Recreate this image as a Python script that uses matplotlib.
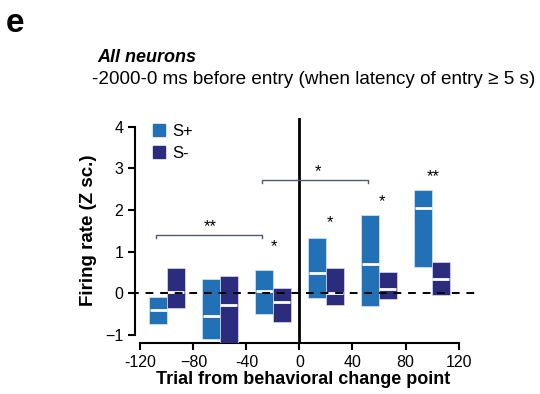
import matplotlib.pyplot as plt
from matplotlib.patches import Patch

plt.rcParams['font.family'] = ['Liberation Sans', 'DejaVu Sans']

# group centres on the trial axis
groups = [-100, -60, -20, 20, 60, 100]
# S+ boxes: top, bottom, median
splus_top = [-0.1, 0.34, 0.56, 1.32, 1.88, 2.48]
splus_bot = [-0.74, -1.1, -0.5, -0.12, -0.3, 0.62]
splus_med = [-0.40, -0.54, 0.06, 0.48, 0.70, 2.04]
# S- boxes
sminus_top = [0.6, 0.41, 0.13, 0.6, 0.5, 0.76]
sminus_bot = [-0.36, -1.6, -0.69, -0.28, -0.14, -0.04]
sminus_med = [0.04, -0.28, -0.22, 0.01, 0.10, 0.34]

# significance marks (x, y, text)
star_x = [-19, 23, 62.5, 101]
star_y = [1.12, 1.7, 2.2, 2.8]
star_txt = ['*', '*', '*', '**']
# brackets: x0, x1, y, label x, label text
brackets = [(-108, -28, 1.4, -67.5, '**'), (-28, 52, 2.72, 14, '*')]

c_plus = '#2270b5'
c_minus = '#2b2c7e'
off = 6.5
w = 13.5

fig = plt.figure(figsize=(5.4, 3.94), dpi=100)
ax = fig.add_axes([0.2356, 0.1287, 0.6503, 0.5713])

for i, g in enumerate(groups):
    x = g - off
    ax.bar(x, splus_top[i] - splus_bot[i], bottom=splus_bot[i], width=w,
           color=c_plus, edgecolor='#dbe6f3', linewidth=0.5, zorder=2)
    ax.hlines(splus_med[i], x - w / 2 + 0.3, x + w / 2 - 0.3, color='white', lw=2, zorder=3)
    x = g + off
    ax.bar(x, sminus_top[i] - sminus_bot[i], bottom=sminus_bot[i], width=w,
           color=c_minus, edgecolor='#dcdcec', linewidth=0.5, zorder=4)
    ax.hlines(sminus_med[i], x - w / 2 + 0.3, x + w / 2 - 0.3, color='white', lw=2, zorder=5)

ax.plot([-127, 134], [0, 0], ls=(0, (4, 3.5)), color='black', lw=1.4, zorder=6, clip_on=False)
ax.axvline(0, color='black', lw=2, zorder=1)

for x, y, t in zip(star_x, star_y, star_txt):
    ax.text(x, y, t, ha='center', va='center', fontsize=12)
for x0, x1, y, tx, t in brackets:
    ax.plot([x0, x0, x1, x1], [y - 0.07, y, y, y - 0.07], color='#4a5d6e', lw=1)
    ax.text(tx, y + 0.2, t, ha='center', va='center', fontsize=12)

ax.set_xlim(-130, 135)
ax.set_ylim(-1.2, 4.2)
ax.spines['top'].set_visible(False)
ax.spines['right'].set_visible(False)
ax.spines['left'].set_position(('data', -124))
ax.spines['left'].set_bounds(-1, 4)
ax.spines['bottom'].set_bounds(-120, 120)
ax.spines['left'].set_linewidth(1.5)
ax.spines['bottom'].set_linewidth(1.5)
ax.set_xticks([-120, -80, -40, 0, 40, 80, 120])
ax.set_xticklabels(['-120', '\u221280', '-40', '0', '40', '80', '120'])
ax.set_yticks([-1, 0, 1, 2, 3, 4])
ax.set_yticklabels(['\u22121', '0', '1', '2', '3', '4'])
ax.tick_params(direction='out', length=5, width=1.5, labelsize=11.5)
ax.set_xlabel('Trial from behavioral change point', fontsize=13, fontweight='bold', labelpad=1)
ax.set_ylabel('Firing rate (Z sc.)', fontsize=13.5, fontweight='bold', labelpad=6)

ax.legend(handles=[Patch(color=c_plus, label='S+'), Patch(color=c_minus, label='S-')],
          loc='upper left', bbox_to_anchor=(0.03, 1.04), frameon=False, fontsize=12,
          handlelength=0.75, handleheight=0.75, handletextpad=0.4, labelspacing=0.4)

fig.text(6 / 540, 1 - 23 / 394, 'e', fontsize=24, fontweight='bold', va='center')
fig.text(97 / 540, 1 - 58 / 394, 'All neurons', fontsize=13, fontweight='bold',
         style='italic', va='center')
fig.text(92 / 540, 1 - 79 / 394, '-2000-0 ms before entry (when latency of entry \u2265 5 s)',
         fontsize=13.6, va='center')

fig.savefig('out.png', dpi=100)
